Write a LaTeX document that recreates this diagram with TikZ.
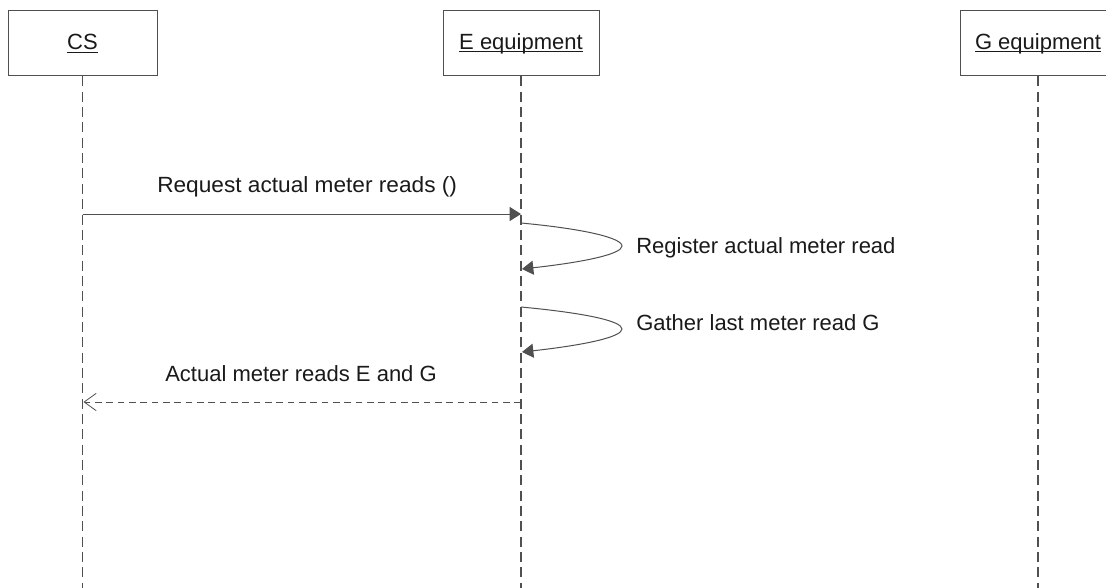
\documentclass[tikz,border=0pt]{standalone}
\usepackage{fontspec}
\setmainfont{Liberation Sans}
\usetikzlibrary{arrows.meta}
\definecolor{linec}{HTML}{505050}
\definecolor{txtc}{HTML}{1A1A1A}
\newcommand\myul[1]{\setbox0\hbox{#1}\rlap{\color{txtc}\rule[-2.2pt]{\wd0}{0.75pt}}\box0}
\tikzset{
  px/.style={x=0.75pt,y=-0.75pt},
  obj/.style={draw=linec, line width=0.75pt, minimum height=48.75pt, inner sep=0pt, text=txtc, font=\fontsize{16.5pt}{18pt}\selectfont},
  life/.style={draw=linec, line width=0.9pt, dash pattern=on 7.5pt off 4pt},
  lbl/.style={text=txtc, font=\fontsize{16.5pt}{18pt}\selectfont, inner sep=0pt, anchor=base west},
  call/.style={draw=linec, line width=0.75pt, -{Triangle[length=8.5pt,width=10.5pt]}},
  ret/.style={draw=linec, line width=0.75pt, dash pattern=on 5pt off 3.5pt, -{Straight Barb[length=9pt,width=13pt,line width=0.6pt]}},
}
\begin{document}
\begin{tikzpicture}[px]
\useasboundingbox (0,0) rectangle (1106,588);
\clip (0,0) rectangle (1106,588);
\fill[white] (0,0) rectangle (1106,588);
% objects
\node[obj, minimum width=111.75pt] (cs) at (82.5,43.5) {\myul{CS}};
\node[obj, minimum width=117pt] (e) at (521,43.5) {\myul{E equipment}};
\node[obj, minimum width=117pt] (g) at (1038,43.5) {\myul{G equipment}};
% lifeline ends
\coordinate (csend) at (82.5,590);
\coordinate (eend) at (521,590);
\coordinate (gend) at (1038,590);
\draw[life] (cs.south) -- (csend);
\draw[life] (e.south) -- (eend);
\draw[life] (g.south) -- (gend);
% message 1
\coordinate (m1s) at (82.5,214);
\coordinate (m1e) at (521,214);
\draw[call] (m1s) -- (m1e);
\node[lbl, xscale=1.03] (l1) at (157,193) {Request actual meter reads ()};
% self call 1
\coordinate (s1a) at (521,223);
\coordinate (s1b) at (522,269);
\draw[call] (s1a) .. controls (585,229) and (622,238) .. (622,246) .. controls (622,254) and (585,262) .. (s1b);
\node[lbl] (l2) at (636,253) {Register actual meter read};
% self call 2
\coordinate (s2a) at (521,307);
\coordinate (s2b) at (522,352);
\draw[call] (s2a) .. controls (585,313) and (622,321) .. (622,329) .. controls (622,337) and (585,345) .. (s2b);
\node[lbl] (l3) at (636,330) {Gather last meter read G};
% return
\coordinate (r1s) at (521,402);
\coordinate (r1e) at (83.5,402);
\draw[ret] (r1s) -- (r1e);
\node[lbl] (l4) at (165,381) {Actual meter reads E and G};
\end{tikzpicture}
\end{document}
